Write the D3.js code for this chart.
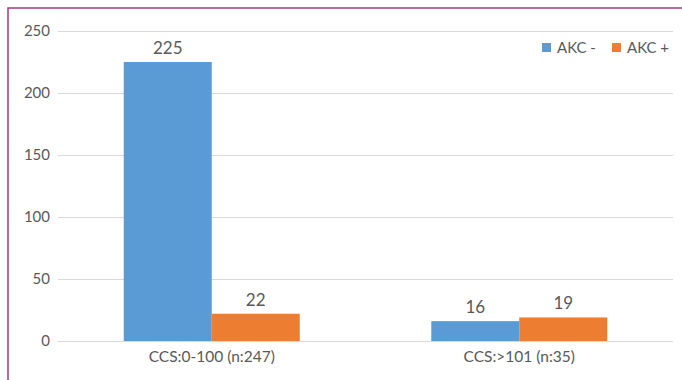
<!DOCTYPE html>
<html>
<head>
  <meta charset="utf-8">
  <title>CCS chart</title>
  <script src="https://d3js.org/d3.v7.min.js"></script>
  <style>
    body { margin: 0; background: #fff; }
    svg text { font-family: Lato, "Open Sans", sans-serif; fill: #595959; }
  </style>
</head>
<body>
<script>
  // data
  var categories = ['CCS:0-100 (n:247)', 'CCS:>101 (n:35)']
  var seriesNames = ['AKC -', 'AKC +']
  var akcMinus = [225, 16]
  var akcPlus = [22, 19]
  var yTicks = [0, 50, 100, 150, 200, 250]
  var colors = ['#5b9bd5', '#ed7d31']

  var W = 682, H = 380
  var margin = { top: 31, right: 9, bottom: 39, left: 58 }
  var w = W - margin.left - margin.right
  var h = H - margin.top - margin.bottom

  var svg = d3.select('body').append('svg')
      .attr('width', W)
      .attr('height', H)

  // frame (cropped, only left and top show)
  svg.append('path')
      .attr('d', 'M8,' + H + 'V8H' + W)
      .attr('fill', 'none')
      .attr('stroke', '#9b3b86')
      .attr('stroke-width', 1.5)

  var g = svg.append('g')
      .attr('transform', 'translate(' + margin.left + ',' + margin.top + ')')

  var x0 = d3.scaleBand()
      .domain(categories)
      .range([0, w])
      .paddingInner(0.4277)
      .paddingOuter(0.2138)
  var x1 = d3.scaleBand()
      .domain(seriesNames)
      .range([0, x0.bandwidth()])
  var y = d3.scaleLinear()
      .domain([0, 250])
      .range([h, 0])

  // gridlines
  g.selectAll('.grid')
      .data(yTicks)
      .enter().append('line')
      .attr('x1', 0).attr('x2', w)
      .attr('y1', function (d) { return y(d) + 0.5 })
      .attr('y2', function (d) { return y(d) + 0.5 })
      .attr('stroke', '#d9d9d9')
      .attr('stroke-width', 1)

  // y axis labels
  var yAxis = d3.axisLeft(y).tickValues(yTicks).tickSize(0).tickPadding(8)
  var ya = g.append('g').call(yAxis)
  ya.select('.domain').remove()
  ya.selectAll('text').style('font-size', '15px')

  // bars
  var rows = categories.map(function (c, i) {
    return { cat: c, vals: [akcMinus[i], akcPlus[i]] }
  })
  var groups = g.selectAll('.grp')
      .data(rows)
      .enter().append('g')
      .attr('transform', function (d) { return 'translate(' + x0(d.cat) + ',0)' })

  groups.selectAll('rect')
      .data(function (d) { return d.vals.map(function (v, j) { return { s: seriesNames[j], v: v, j: j } }) })
      .enter().append('rect')
      .attr('x', function (d) { return x1(d.s) })
      .attr('width', x1.bandwidth())
      .attr('y', function (d) { return y(d.v) })
      .attr('height', function (d) { return h - y(d.v) })
      .attr('fill', function (d) { return colors[d.j] })

  groups.selectAll('.val')
      .data(function (d) { return d.vals.map(function (v, j) { return { s: seriesNames[j], v: v } }) })
      .enter().append('text')
      .attr('x', function (d) { return x1(d.s) + x1.bandwidth() / 2 })
      .attr('y', function (d) { return y(d.v) - 8 })
      .attr('text-anchor', 'middle')
      .style('font-size', '17px')
      .text(function (d) { return d.v })

  // x axis labels
  var xAxis = d3.axisBottom(x0).tickSize(0).tickPadding(10)
  var xa = g.append('g').attr('transform', 'translate(0,' + h + ')').call(xAxis)
  xa.select('.domain').remove()
  xa.selectAll('text').style('font-size', '15.5px')

  // legend
  var legX = [542, 612]
  var leg = svg.selectAll('.leg')
      .data(seriesNames)
      .enter().append('g')
      .attr('transform', function (d, i) { return 'translate(' + legX[i] + ',43)' })
  leg.append('rect')
      .attr('width', 9).attr('height', 9)
      .attr('fill', function (d, i) { return colors[i] })
  leg.append('text')
      .attr('x', 15).attr('y', 9.5)
      .style('font-size', '15px')
      .text(function (d) { return d })
</script>
</body>
</html>
